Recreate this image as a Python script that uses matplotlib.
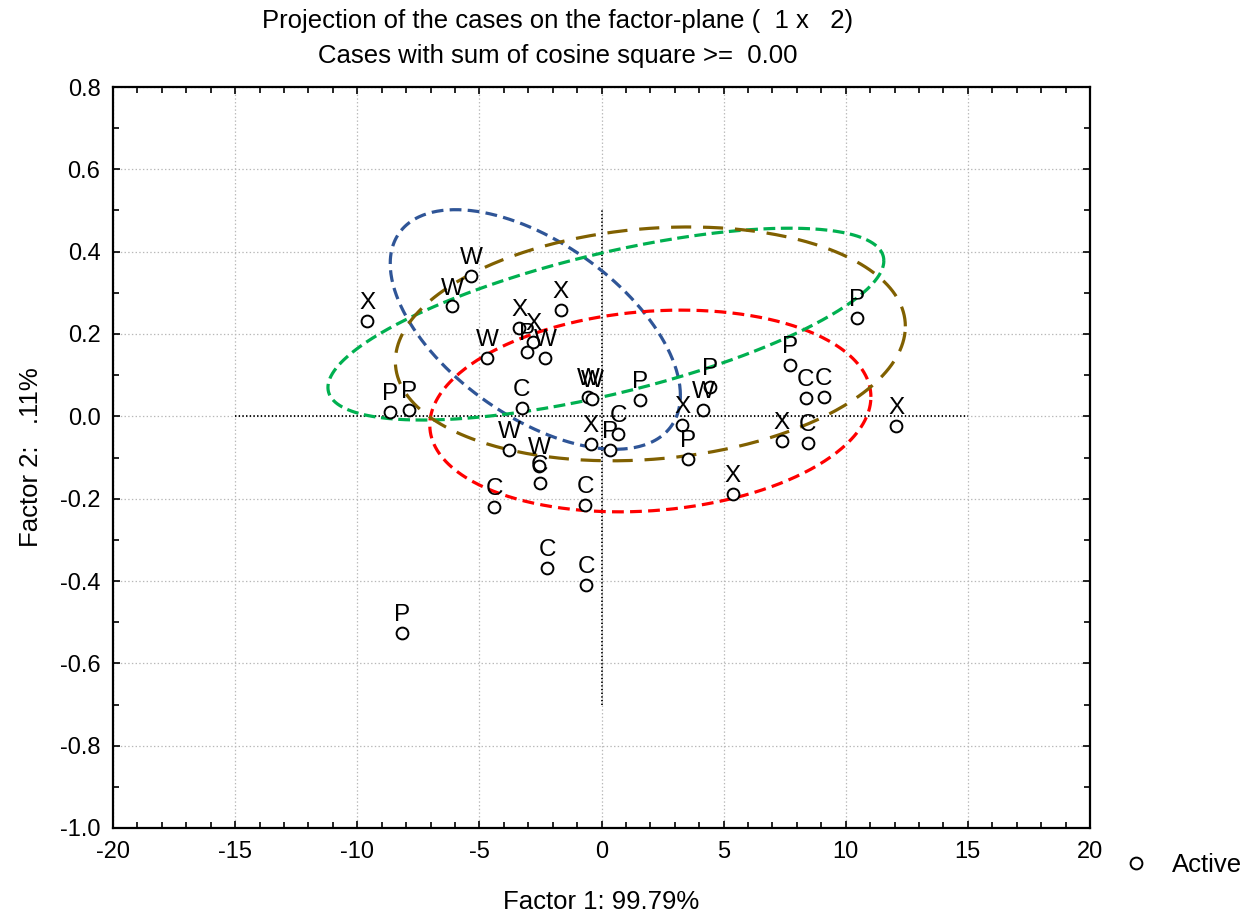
import numpy as np
import matplotlib
matplotlib.use("Agg")
import matplotlib.pyplot as plt
from matplotlib.lines import Line2D
from matplotlib.ticker import MultipleLocator

plt.rcParams['font.family'] = ['Liberation Sans', 'DejaVu Sans']
plt.rcParams['lines.scale_dashes'] = False

# case coordinates on the factor plane
labels = ['X', 'P', 'P', 'P', 'W', 'W', 'W', 'X',
          'X', 'X', 'P', 'W', 'W', 'C', 'W', 'C',
          'C', 'C', 'C', 'C', 'W', 'W', 'X', 'C',
          'P', 'P', 'X', 'W', 'P', 'P', 'X', 'P',
          'C', 'C', 'X', 'C', 'P', 'X']
factor1 = [-9.6, -8.66, -7.88, -8.17, -5.34, -6.12, -4.69, -1.66,
           -3.37, -2.8, -3.06, -2.3, -3.78, -3.26, -2.56, -2.52,
           -4.4, -2.23, -0.67, -0.63, -0.55, -0.39, -0.43, 0.68,
           0.35, 1.57, 3.3, 4.15, 4.44, 3.54, 5.38, 7.72,
           8.37, 9.1, 7.39, 8.45, 10.46, 12.06]
factor2 = [0.231, 0.01, 0.015, -0.527, 0.341, 0.267, 0.142, 0.258,
           0.215, 0.181, 0.157, 0.141, -0.081, 0.02, -0.12, -0.163,
           -0.22, -0.368, -0.215, -0.41, 0.047, 0.042, -0.067, -0.043,
           -0.082, 0.04, -0.02, 0.015, 0.072, -0.104, -0.188, 0.124,
           0.045, 0.047, -0.06, -0.064, 0.24, -0.023]

# group ellipses: centre, spread along each factor, correlation
ell_colors = ['#2f5597', '#ff0000', '#00b050', '#806000']
ell_cx = [-2.71, 2.0, 0.18, 2.0]
ell_cy = [0.211, 0.013, 0.224, 0.176]
ell_sx = [5.94, 9.03, 11.38, 10.44]
ell_sy = [0.291, 0.245, 0.233, 0.284]
ell_r = [-0.55, 0.14, 0.66, 0.15]
ell_dash = [(8.5, 4.5), (8.5, 4.5), (8.5, 4.0), (14.5, 8.5)]

fig = plt.figure(figsize=(12.48, 9.18), dpi=100)
ax = fig.add_axes([113 / 1248, 1 - 828 / 918, 977 / 1248, 741 / 918])

ax.set_xlim(-20, 20)
ax.set_ylim(-1.0, 0.8)
ax.xaxis.set_major_locator(MultipleLocator(5))
ax.xaxis.set_minor_locator(MultipleLocator(1))
ax.yaxis.set_major_locator(MultipleLocator(0.2))
ax.yaxis.set_minor_locator(MultipleLocator(0.1))
ax.yaxis.set_major_formatter(plt.FuncFormatter(lambda v, p: f"{v:.1f}"))
ax.xaxis.set_major_formatter(plt.FuncFormatter(lambda v, p: f"{v:.0f}"))
ax.tick_params(which='both', direction='in', top=True, right=True,
               labelsize=17, width=1.2)
ax.tick_params(which='major', length=5, pad=9)
ax.tick_params(which='minor', length=4)
ax.grid(True, which='major', color='#b8b8b8', linestyle=':', linewidth=0.9)
for s in ax.spines.values():
    s.set_linewidth(1.6)

# reference axes through the origin
ax.plot([0, 0], [-0.7, 0.5], color='black', linestyle=':', linewidth=1.3)
ax.plot([-15, 15], [0, 0], color='black', linestyle=':', linewidth=1.3)

t = np.linspace(0, 2 * np.pi, 400)
for c, cx, cy, sx, sy, r, d in zip(ell_colors, ell_cx, ell_cy, ell_sx,
                                   ell_sy, ell_r, ell_dash):
    ex = cx + sx * np.cos(t)
    ey = cy + sy * (r * np.cos(t) + np.sqrt(1 - r ** 2) * np.sin(t))
    ax.plot(ex, ey, color=c, linewidth=2.3, dashes=d)

ax.plot(factor1, factor2, linestyle='none', marker='o', markersize=8.5,
        markerfacecolor='white', markeredgecolor='black', markeredgewidth=1.4)
for lab, x, y in zip(labels, factor1, factor2):
    ax.annotate(lab, (x, y), xytext=(0, 8.5), textcoords='offset points',
                ha='center', va='baseline', fontsize=17.5)

ax.set_xlabel('Factor 1: 99.79%', fontsize=18.5, labelpad=20)
ax.set_ylabel('Factor 2:   .11%', fontsize=18.5, labelpad=12)

fig.text(558 / 1248, 1 - 21 / 918, 'Projection of the cases on the factor-plane (  1 x   2)',
         ha='center', va='center', fontsize=18.5)
fig.text(558 / 1248, 1 - 56 / 918, 'Cases with sum of cosine square >=  0.00',
         ha='center', va='center', fontsize=18.5)

handle = Line2D([], [], linestyle='none', marker='o', markersize=8.5,
                markerfacecolor='white', markeredgecolor='black', markeredgewidth=1.4)
fig.legend([handle], ['Active'], loc='center left',
           bbox_to_anchor=(1100 / 1248, 1 - 865 / 918), frameon=False,
           fontsize=18.5, handlelength=1.0, handletextpad=0.9)

fig.savefig('out.png', dpi=100)
